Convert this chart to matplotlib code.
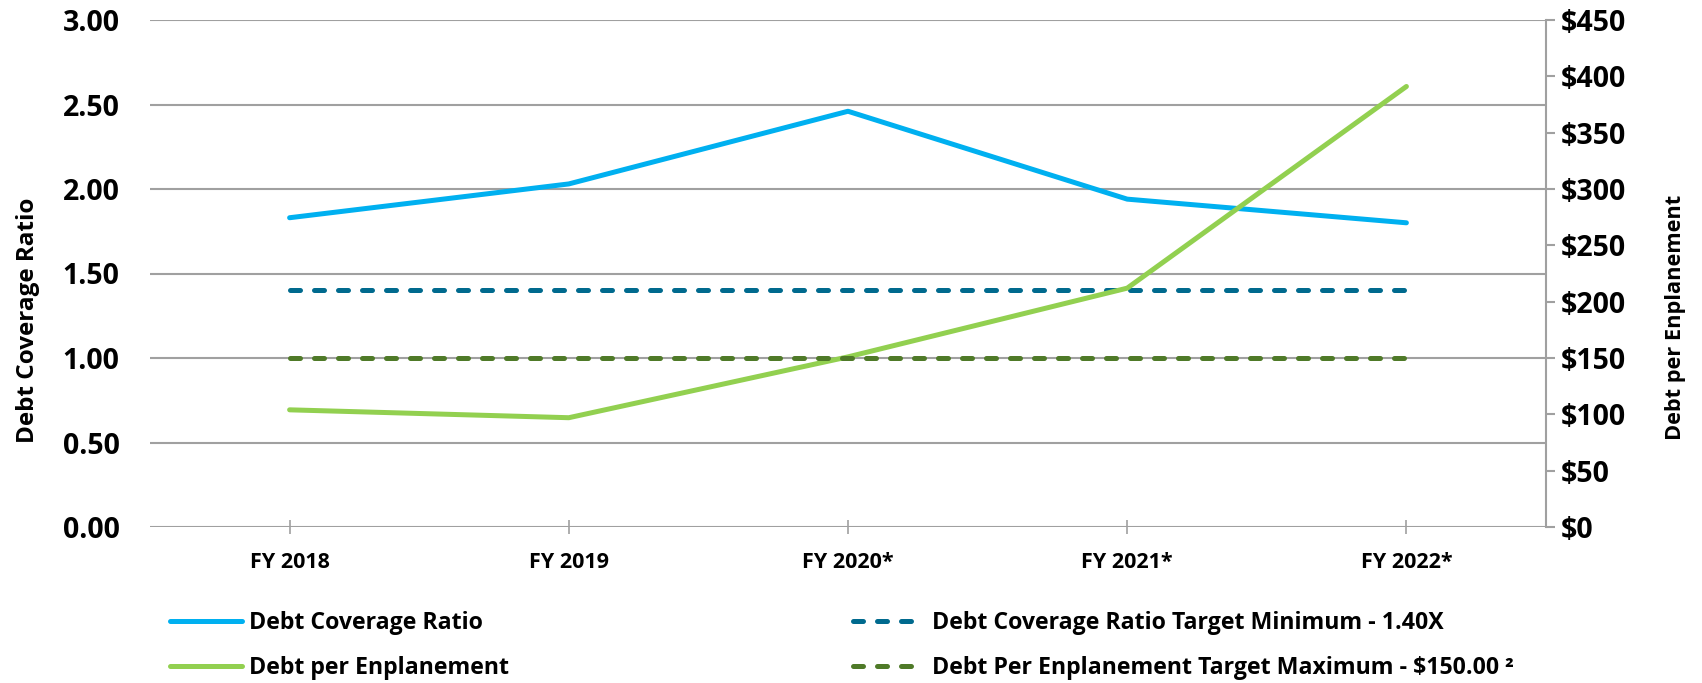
import matplotlib
matplotlib.use("Agg")
import matplotlib.pyplot as plt
from matplotlib.lines import Line2D

plt.rcParams['font.family'] = ['Open Sans', 'DejaVu Sans']
plt.rcParams['font.weight'] = 'bold'

# данные
years = ["FY 2018", "FY 2019", "FY 2020*", "FY 2021*", "FY 2022*"]
coverage = [1.83, 2.03, 2.46, 1.94, 1.80]
per_enpl = [104, 97, 151, 212, 391]
coverage_min = 1.40
enpl_max = 150.0

c_cov = "#00B0F0"
c_cov_t = "#006A8E"
c_enpl = "#92D050"
c_enpl_t = "#4F7A28"
grid_c = "#A0A0A0"

fig = plt.figure(figsize=(17.02, 6.83), dpi=100)
ax = fig.add_axes([150 / 1702, 1 - 527 / 683, 1396 / 1702, 507 / 683])
ax2 = ax.twinx()

x = list(range(len(years)))
lw = 3.6

ax.plot(x, coverage, color=c_cov, lw=lw, solid_capstyle="round", zorder=3)
ax.plot(x, [coverage_min] * len(x), color=c_cov_t, lw=lw,
        dashes=(2, 2.8), dash_capstyle="round", zorder=3)
ax2.plot(x, per_enpl, color=c_enpl, lw=lw, solid_capstyle="round", zorder=3)
ax2.plot(x, [enpl_max] * len(x), color=c_enpl_t, lw=lw,
         dashes=(2, 2.8), dash_capstyle="round", zorder=4)

ax.set_xlim(-0.5, 4.5)
ax.set_ylim(0, 3)
ax2.set_ylim(0, 450)
ax.set_yticks([i * 0.5 for i in range(7)])
ax.set_yticklabels([f"{i * 0.5:.2f}" for i in range(7)], fontsize=20.5)
ax2.set_yticks(range(0, 451, 50))
ax2.set_yticklabels([f"${v}" for v in range(0, 451, 50)], fontsize=20.5)
ax.set_xticks(x)
ax.set_xticklabels(years, fontsize=15.5)

ax.grid(axis="y", color=grid_c, lw=1.5)
ax.set_axisbelow(True)
for a in (ax, ax2):
    for s in ("top", "left", "bottom", "right"):
        a.spines[s].set_visible(False)
ax2.spines["right"].set_visible(True)
ax2.spines["right"].set_color(grid_c)
ax2.spines["right"].set_linewidth(1.5)

ax.tick_params(axis="y", length=0, pad=22)
ax.tick_params(axis="x", direction="inout", length=10, width=1.2, color=grid_c, pad=13)
ax2.tick_params(axis="y", direction="out", length=6.5, width=1.5, color=grid_c, pad=4)

# подписи осей немного ниже центра, как в оригинале
ax.set_ylabel("Debt Coverage Ratio", fontsize=17.5, fontweight="bold")
ax.yaxis.set_label_coords(-0.079, 0.408)
ax2.set_ylabel("Debt per Enplanement", fontsize=15.7, fontweight="bold", rotation=90)
ax2.yaxis.set_label_coords(1.0855, 0.413)

# легенда в две колонки
h1 = [Line2D([], [], color=c_cov, lw=lw, solid_capstyle="round"),
      Line2D([], [], color=c_enpl, lw=lw, solid_capstyle="round")]
h2 = [Line2D([], [], color=c_cov_t, lw=lw, dashes=(2, 2.8), dash_capstyle="round"),
      Line2D([], [], color=c_enpl_t, lw=lw, dashes=(2, 2.8), dash_capstyle="round")]
leg_kw = dict(frameon=False, fontsize=16.7, handlelength=3.1, handletextpad=0.3,
              labelspacing=0.9, borderpad=0, borderaxespad=0, loc="upper left")
fig.legend(h1, ["Debt Coverage Ratio", "Debt per Enplanement"],
           bbox_to_anchor=(170 / 1702, 1 - 611 / 683), **leg_kw)
fig.legend(h2, ["Debt Coverage Ratio Target Minimum - 1.40X",
                "Debt Per Enplanement Target Maximum - $150.00 \u00b2"],
           bbox_to_anchor=(853 / 1702, 1 - 611 / 683), **leg_kw)

fig.savefig("out.png", dpi=100)
